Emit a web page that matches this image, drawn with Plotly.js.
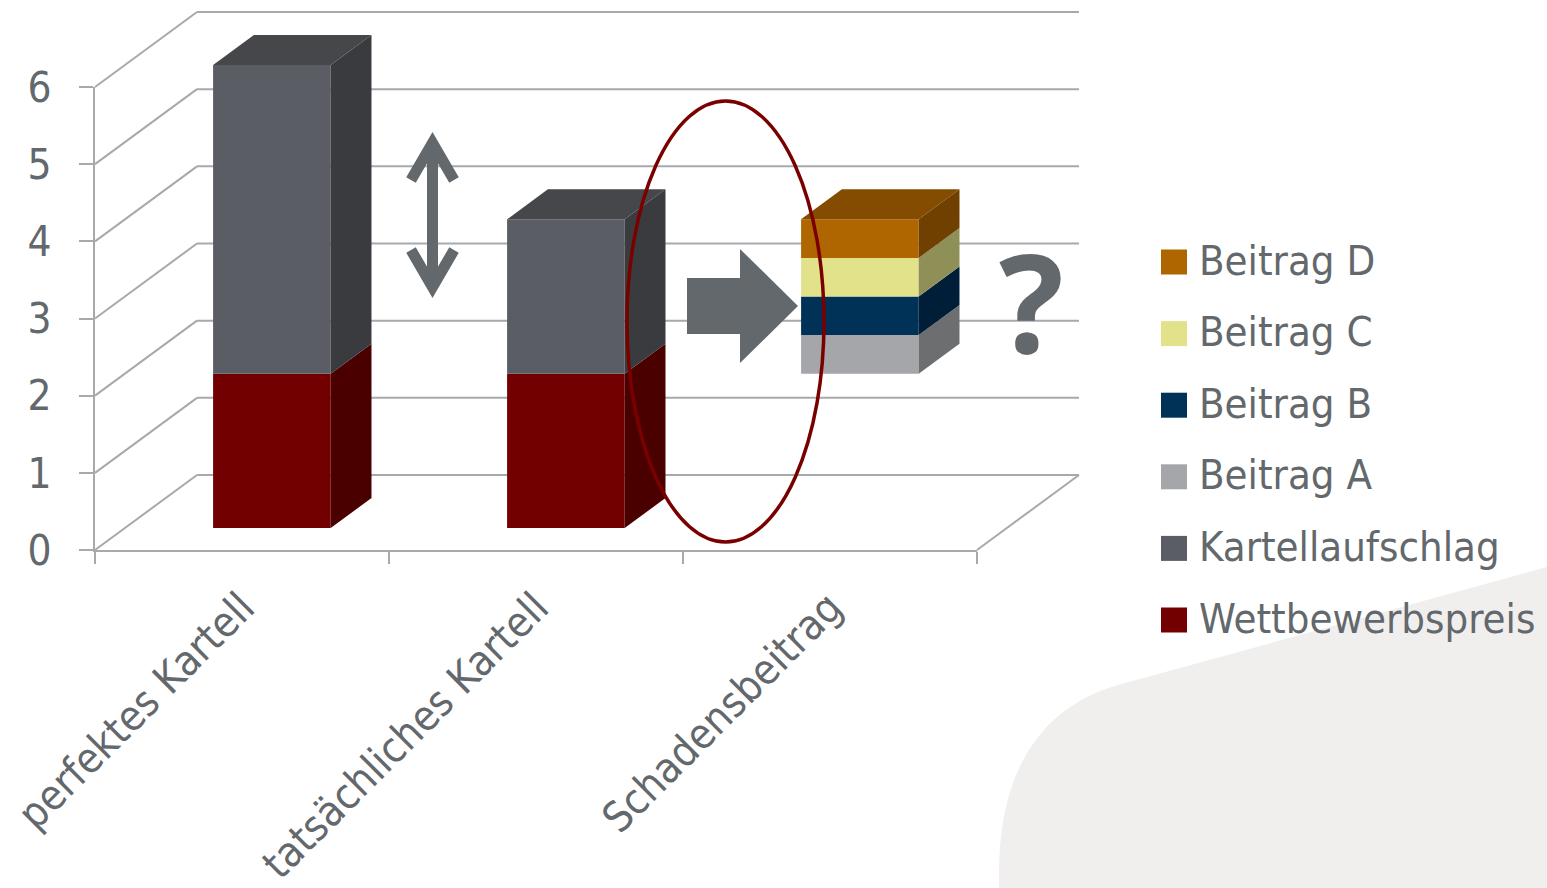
<!DOCTYPE html>
<html>
<head>
<meta charset="utf-8">
<script src="https://cdn.plot.ly/plotly-3.0.1.min.js"></script>
<style>
html,body{margin:0;padding:0;background:#ffffff;}
#chart{width:1547px;height:888px;}
</style>
</head>
<body>
<div id="chart"></div>
<script>
// ---------------- DATA ----------------
const categories = ['perfektes Kartell', 'tatsächliches Kartell', 'Schadensbeitrag'];
const wettbewerbspreis = [2, 2, 0];
const kartellaufschlag = [4, 2, 0];
const sockel = [0, 0, 2];          // invisible spacer under the Beiträge
const beitragA = [0, 0, 0.5];
const beitragB = [0, 0, 0.5];
const beitragC = [0, 0, 0.5];
const beitragD = [0, 0, 0.5];
const yTicks = [0, 1, 2, 3, 4, 5, 6];

// ---------------- STYLE ----------------
const FONT = "'DejaVu Sans Condensed', 'DejaVu Sans', sans-serif";
const TEXT = '#63686c';
const LINE = '#a7a9ac';
const W = 1547, H = 888;
const px = x => x / W;
const py = y => 1 - y / H;

const stack = [
  {name: 'Wettbewerbspreis', values: wettbewerbspreis, front: '#720000', side: '#4b0000', top: '#5c0000'},
  {name: 'Kartellaufschlag', values: kartellaufschlag, front: '#5a5d63', side: '#3a3b3f', top: '#45474b'},
  {name: null, values: sockel},
  {name: 'Beitrag A', values: beitragA, front: '#a4a6a9', side: '#6d6e70', top: '#898b8e'},
  {name: 'Beitrag B', values: beitragB, front: '#003257', side: '#001e38', top: '#00284a'},
  {name: 'Beitrag C', values: beitragC, front: '#e2e28a', side: '#8f8f58', top: '#b8b870'},
  {name: 'Beitrag D', values: beitragD, front: '#b06600', side: '#6f4000', top: '#834c00'}
];

// pixel frame of the front edge of the 3D box
const FL = 95, FR = 977, FB = 550, FT = 87;
const nCat = categories.length;
const yMax = yTicks[yTicks.length - 1];
const catPx = (FR - FL) / nCat;
const valPx = (FB - FT) / yMax;
const DX = 102 / catPx, DY = 75 / valPx;          // depth vector (front -> back wall)
const BAR_FRONT = 0.293, BAR_DEPTH = 0.4, BAR_WIDTH = 0.4;
const fx = BAR_FRONT * DX, fy = BAR_FRONT * DY;
const sx = BAR_DEPTH * DX, sy = BAR_DEPTH * DY;

// subplot with the 3D geometry
const BL = 85, BR = 1095, BT = 4, BB = 562;
const x2range = [-0.5 - (FL - BL) / catPx, -0.5 + (BR - FL) / catPx];
const y2range = [-(BB - FB) / valPx, (FB - BT) / valPx];

// cumulative stacking
let cum = categories.map(() => 0);
stack.forEach(s => {
  s.bottoms = cum.slice();
  cum = cum.map((c, i) => c + s.values[i]);
});
const xs = categories.map((c, i) => i + fx);
const topIdx = categories.map((c, i) => {
  let k = -1;
  stack.forEach((s, j) => { if (s.name && s.values[i] > 0) k = j; });
  return k;
});

const traces = [];
// anchor trace for the axis subplot
traces.push({type: 'scatter', mode: 'markers', x: categories.map((c, i) => i), y: categories.map(() => null),
  xaxis: 'x', yaxis: 'y', showlegend: false, hoverinfo: 'skip'});

// front faces
stack.forEach(s => {
  if (!s.name) return;
  traces.push({
    type: 'bar', name: s.name, x: xs, y: s.values,
    base: s.bottoms.map(b => b + fy), width: BAR_WIDTH,
    marker: {color: s.front, line: {width: 0}},
    xaxis: 'x2', yaxis: 'y2', showlegend: false,
    customdata: categories, hovertemplate: '%{customdata}: %{y}<extra>' + s.name + '</extra>'
  });
});

// side faces
stack.forEach(s => {
  if (!s.name) return;
  const X = [], Y = [];
  categories.forEach((c, i) => {
    if (s.values[i] <= 0) return;
    const xr = xs[i] + BAR_WIDTH / 2;
    const y0 = s.bottoms[i] + fy, y1 = s.bottoms[i] + s.values[i] + fy;
    X.push(xr, xr + sx, xr + sx, xr, xr, null);
    Y.push(y0, y0 + sy, y1 + sy, y1, y0, null);
  });
  if (!X.length) return;
  traces.push({type: 'scatter', mode: 'lines', x: X, y: Y, fill: 'toself', fillcolor: s.side,
    line: {width: 0, color: s.side}, xaxis: 'x2', yaxis: 'y2', showlegend: false, hoverinfo: 'skip'});
});

// top faces
stack.forEach((s, j) => {
  if (!s.name) return;
  const X = [], Y = [];
  categories.forEach((c, i) => {
    if (topIdx[i] !== j) return;
    const xl = xs[i] - BAR_WIDTH / 2, xr = xs[i] + BAR_WIDTH / 2;
    const yt = s.bottoms[i] + s.values[i] + fy;
    X.push(xl, xr, xr + sx, xl + sx, xl, null);
    Y.push(yt, yt, yt + sy, yt + sy, yt, null);
  });
  if (!X.length) return;
  traces.push({type: 'scatter', mode: 'lines', x: X, y: Y, fill: 'toself', fillcolor: s.top,
    line: {width: 0, color: s.top}, xaxis: 'x2', yaxis: 'y2', showlegend: false, hoverinfo: 'skip'});
});

// ---------------- SHAPES ----------------
const shapes = [];
// background blob
shapes.push({type: 'path', xref: 'paper', yref: 'paper', layer: 'below',
  path: `M${px(1547)},${py(567)} L${px(1118)},${py(685)} C${px(1045)},${py(706)} ${px(1000)},${py(765)} ${px(999)},${py(870)} L${px(999)},${py(888)} L${px(1547)},${py(888)} Z`,
  fillcolor: '#f0efee', line: {width: 0}});

// walls and gridlines of the 3D box
const xLeft = -0.5, xRight = nCat - 0.5;
yTicks.forEach(k => {
  shapes.push({type: 'line', xref: 'x2', yref: 'y2', layer: 'below',
    x0: xLeft, y0: k, x1: xLeft + DX, y1: k + DY, line: {color: LINE, width: 2}});
  shapes.push({type: 'line', xref: 'x2', yref: 'y2', layer: 'below',
    x0: xLeft + DX, y0: k + DY, x1: xRight + DX, y1: k + DY, line: {color: LINE, width: 2}});
});
shapes.push({type: 'line', xref: 'x2', yref: 'y2', layer: 'below',
  x0: xRight, y0: 0, x1: xRight + DX, y1: DY, line: {color: LINE, width: 2}});

// double arrow
const ARW = '#63686c';
shapes.push({type: 'path', xref: 'paper', yref: 'paper',
  path: `M${px(411)},${py(180)} L${px(432.5)},${py(143)} L${px(454)},${py(180)} ` +
        `M${px(432.5)},${py(146)} L${px(432.5)},${py(284)} ` +
        `M${px(411)},${py(250)} L${px(432.5)},${py(287)} L${px(454)},${py(250)}`,
  line: {color: ARW, width: 11}});
// block arrow
shapes.push({type: 'path', xref: 'paper', yref: 'paper',
  path: `M${px(687)},${py(278)} L${px(740)},${py(278)} L${px(740)},${py(249)} L${px(798)},${py(306)} L${px(740)},${py(363)} L${px(740)},${py(334)} L${px(687)},${py(334)} Z`,
  fillcolor: ARW, line: {width: 0}});
// ellipse
shapes.push({type: 'circle', xref: 'paper', yref: 'paper',
  x0: px(627), x1: px(824), y0: py(542), y1: py(101),
  line: {color: '#7a0000', width: 3.5}});

// manual legend
const annotations = [];
const legendItems = stack.filter(s => s.name).reverse();
legendItems.forEach((s, k) => {
  const yc = 262 + 71.6 * k;
  shapes.push({type: 'rect', xref: 'paper', yref: 'paper',
    x0: px(1161), x1: px(1187), y0: py(yc + 12.5), y1: py(yc - 12.5),
    fillcolor: s.front, line: {width: 0}});
  annotations.push({xref: 'paper', yref: 'paper', x: px(1197), y: py(yc - 2),
    xanchor: 'left', yanchor: 'middle', showarrow: false, text: s.name,
    font: {family: FONT, size: 41.5, color: TEXT}});
});
// question mark
annotations.push({xref: 'paper', yref: 'paper', x: px(1031), y: py(301), xanchor: 'center', yanchor: 'middle',
  showarrow: false, text: '?', font: {family: "'Open Sans', 'DejaVu Sans', sans-serif", size: 136, color: ARW, weight: 'bold'}});

const layout = {
  width: W, height: H,
  margin: {l: 0, r: 0, t: 0, b: 0, pad: 0},
  paper_bgcolor: '#ffffff', plot_bgcolor: 'rgba(0,0,0,0)',
  showlegend: false, barmode: 'overlay',
  xaxis: {
    domain: [px(FL), px(FR)], range: [-0.5, nCat - 0.5], anchor: 'y',
    tickmode: 'array', tickvals: categories.map((c, i) => i), ticktext: categories,
    tickangle: -45, ticks: '', showgrid: false, zeroline: false,
    showline: true, linecolor: LINE, linewidth: 2,
    tickfont: {family: FONT, size: 42, color: TEXT}, ticklabelstandoff: 14,
    minor: {tickmode: 'array', tickvals: categories.map((c, i) => i - 0.5).concat([nCat - 0.5]),
      ticks: 'outside', ticklen: 12, tickwidth: 2, tickcolor: LINE, showgrid: false},
    fixedrange: true
  },
  yaxis: {
    domain: [py(FB), py(FT)], range: [0, yMax], anchor: 'x',
    tickmode: 'array', tickvals: yTicks, ticktext: yTicks.map(String),
    ticks: 'outside', ticklen: 14, tickwidth: 2, tickcolor: LINE,
    showline: true, linecolor: LINE, linewidth: 2, showgrid: false, zeroline: false,
    tickfont: {family: FONT, size: 42, color: TEXT}, ticklabelstandoff: 19,
    fixedrange: true
  },
  xaxis2: {domain: [px(BL), px(BR)], range: x2range, anchor: 'y2', visible: false, fixedrange: true},
  yaxis2: {domain: [py(BB), py(BT)], range: y2range, anchor: 'x2', visible: false, fixedrange: true},
  shapes: shapes,
  annotations: annotations
};

Plotly.newPlot('chart', traces, layout, {displayModeBar: false});
</script>
</body>
</html>
